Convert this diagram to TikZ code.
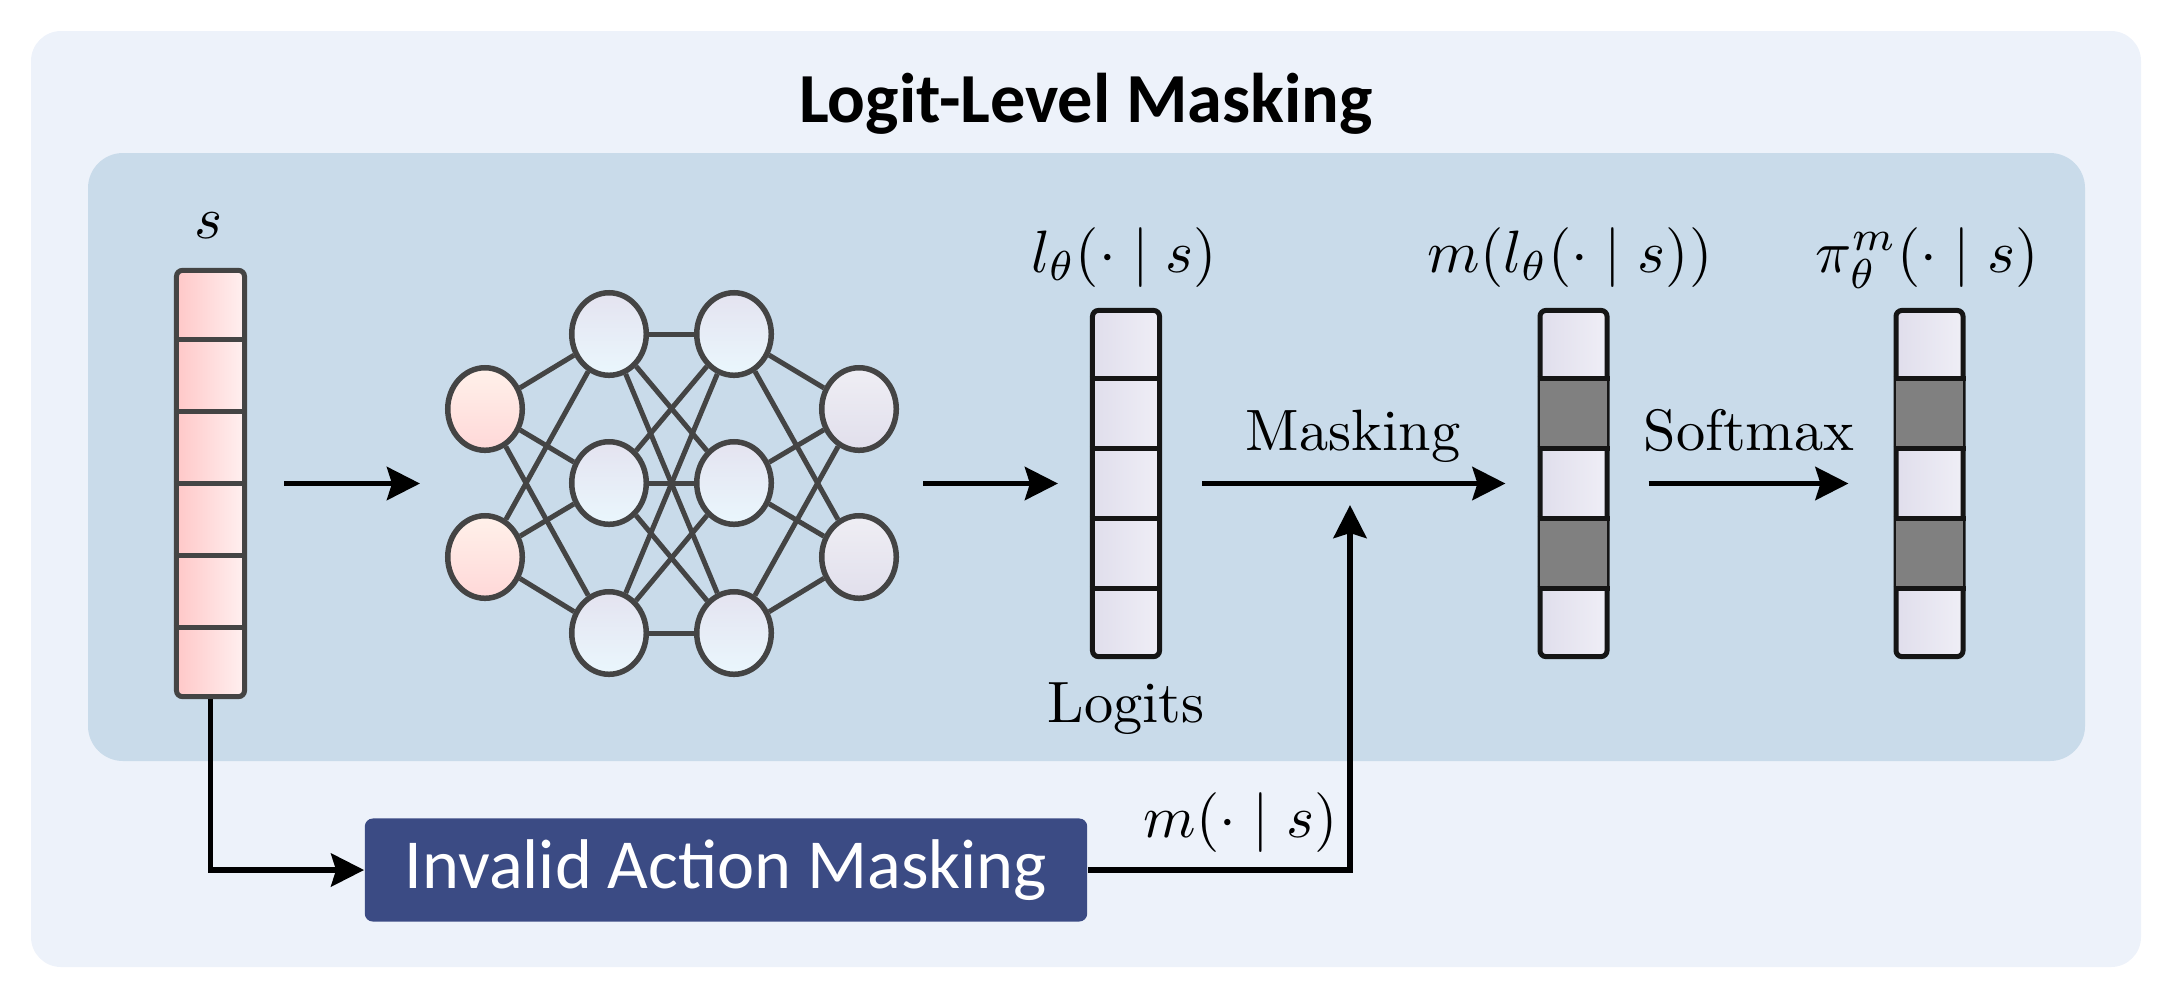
\documentclass[tikz,border=0pt]{standalone}
\usepackage{fontspec}
\usepackage{graphicx}
\newfontfamily\calibri{Carlito}
\usetikzlibrary{shapes.geometric,arrows.meta,calc}
\definecolor{outerbg}{HTML}{EDF2FA}
\definecolor{innerbg}{HTML}{C9DBEA}
\definecolor{boxblue}{HTML}{3B4B84}
\definecolor{nngray}{HTML}{444444}
\definecolor{colblack}{HTML}{151515}
\definecolor{sL}{HTML}{FFC8C8}
\definecolor{sR}{HTML}{FFF0F0}
\definecolor{pAT}{HTML}{FFF1EA}
\definecolor{pAB}{HTML}{FFD8D8}
\definecolor{pBT}{HTML}{E4E3F0}
\definecolor{pBB}{HTML}{EAF7FD}
\definecolor{pDT}{HTML}{EFEEF4}
\definecolor{pDB}{HTML}{E1DFEC}
\definecolor{oL}{HTML}{E0DEEC}
\definecolor{oR}{HTML}{EFEEF6}
\definecolor{maskgray}{HTML}{808080}
\tikzset{
  colnode/.style={rectangle, rounded corners=0.06cm, line width=0.05cm, inner sep=0pt, minimum width=0.68cm},
  scolstyle/.style={colnode, draw=nngray, left color=sL, right color=sR, minimum height=4.26cm},
  ocol/.style={colnode, draw=colblack, left color=oL, right color=oR, minimum height=3.46cm, minimum width=0.67cm},
  nnode/.style={ellipse, draw=nngray, line width=0.055cm, inner sep=0pt, minimum width=0.745cm, minimum height=0.825cm},
  nnA/.style={nnode, top color=pAT, bottom color=pAB},
  nnB/.style={nnode, top color=pBT, bottom color=pBB},
  nnD/.style={nnode, top color=pDT, bottom color=pDB},
  nnedge/.style={draw=nngray, line width=0.05cm},
  arr/.style={line width=0.055cm, -{Stealth[length=0.33cm, width=0.33cm, inset=0.05cm]}},
  mlbl/.style={font=\fontsize{10}{12}\selectfont, inner sep=0pt},
  tlbl/.style={font=\fontsize{10}{12}\selectfont, inner sep=0pt},
  sepline/.style={line width=0.05cm},
}
\newcommand{\mscl}[1]{\scalebox{1.7}{$#1$}}
\newcommand{\tscl}[1]{\scalebox{1.66}{#1}}
\begin{document}
\begin{tikzpicture}[x=0.01cm,y=-0.01cm]
\useasboundingbox (0,0) rectangle (2173,999);
% backgrounds
\fill[outerbg, rounded corners=0.3cm] (31,31) rectangle (2141,967);
\fill[innerbg, rounded corners=0.35cm] (88,153) rectangle (2085,761);
% title
\node[font=\calibri\bfseries\fontsize{20}{24}\selectfont, anchor=base, inner sep=0pt] (title) at (1086,122) {Logit-Level Masking};

% state column
\node[scolstyle] (scol) at (210.5,483.5) {};
\foreach \k in {1,...,5}{
  \draw[sepline, draw=nngray] ($(scol.north west)!\k/6!(scol.south west)$) -- ($(scol.north east)!\k/6!(scol.south east)$);
}
\node[mlbl, anchor=base] (slab) at (209,238) {\mscl{s}};

% neural network
\node[nnA] (a1) at (485,409) {};
\node[nnA] (a2) at (485,557) {};
\node[nnB] (b1) at (609,334) {};
\node[nnB] (b2) at (609,483) {};
\node[nnB] (b3) at (609,633) {};
\node[nnB] (c1) at (734,334) {};
\node[nnB] (c2) at (734,483) {};
\node[nnB] (c3) at (734,633) {};
\node[nnD] (d1) at (859,409) {};
\node[nnD] (d2) at (859,557) {};
\foreach \u in {a1,a2}{\foreach \v in {b1,b2,b3}{\draw[nnedge] (\u) -- (\v);}}
\foreach \u in {b1,b2,b3}{\foreach \v in {c1,c2,c3}{\draw[nnedge] (\u) -- (\v);}}
\foreach \u in {c1,c2,c3}{\foreach \v in {d1,d2}{\draw[nnedge] (\u) -- (\v);}}
\coordinate (nnin) at (420,483.5);
\coordinate (nnout) at (923,483.5);

% logits column
\node[ocol] (lcol) at (1126,483.5) {};
\foreach \k in {1,...,4}{
  \draw[sepline, draw=colblack] ($(lcol.north west)!\k/5!(lcol.south west)$) -- ($(lcol.north east)!\k/5!(lcol.south east)$);
}
\node[mlbl, anchor=base] (llab) at (1124,272) {\mscl{l_\theta(\cdot\mid s)}};
\node[tlbl, anchor=base] (logits) at (1126,722) {\tscl{Logits}};

% masked column
\node[ocol] (mcol) at (1573.5,483.5) {};
\foreach \a/\b in {0.2/0.4,0.6/0.8}{
  \fill[maskgray] ($(mcol.north west)!\a!(mcol.south west)+(2.5,0)$) rectangle ($(mcol.north east)!\b!(mcol.south east)+(-2.5,0)$);
}
\foreach \k in {1,...,4}{
  \draw[sepline, draw=colblack] ($(mcol.north west)!\k/5!(mcol.south west)$) -- ($(mcol.north east)!\k/5!(mcol.south east)$);
}
\node[mlbl, anchor=base] (mlab) at (1570,272) {\mscl{m(l_\theta(\cdot\mid s))}};

% final column
\node[ocol] (fcol) at (1929.5,483.5) {};
\foreach \a/\b in {0.2/0.4,0.6/0.8}{
  \fill[maskgray] ($(fcol.north west)!\a!(fcol.south west)+(2.5,0)$) rectangle ($(fcol.north east)!\b!(fcol.south east)+(-2.5,0)$);
}
\foreach \k in {1,...,4}{
  \draw[sepline, draw=colblack] ($(fcol.north west)!\k/5!(fcol.south west)$) -- ($(fcol.north east)!\k/5!(fcol.south east)$);
}
\node[mlbl, anchor=base] (plab) at (1927,272) {\mscl{\pi_\theta^m(\cdot\mid s)}};

% invalid action masking box
\node[rectangle, rounded corners=0.08cm, fill=boxblue, text=white, minimum width=7.22cm, minimum height=1.03cm, inner sep=0pt, font=\calibri\fontsize{20}{24}\selectfont] (iam) at (726,870) {Invalid Action Masking};
\coordinate (mtip) at (1350,505);

% arrows
\draw[arr, shorten <=0.37cm] (scol.east) -- (nnin);
\draw[arr, shorten >=0.32cm] (nnout) -- (lcol.west);
\draw[arr, shorten <=0.40cm, shorten >=0.32cm] (lcol.east) -- (mcol.west);
\node[tlbl, anchor=base] (masklab) at (1353,450) {\tscl{Masking}};
\draw[arr, shorten <=0.39cm, shorten >=0.45cm] (mcol.east) -- (fcol.west);
\node[tlbl, anchor=base] (softlab) at (1749,450) {\tscl{Softmax}};
\draw[arr] (scol.south) |- (iam.west);
\draw[arr] (iam.east) -| (mtip);
\node[mlbl, anchor=base east] (mslab) at (1338,837) {\mscl{m(\cdot\mid s)}};
\end{tikzpicture}
\end{document}
